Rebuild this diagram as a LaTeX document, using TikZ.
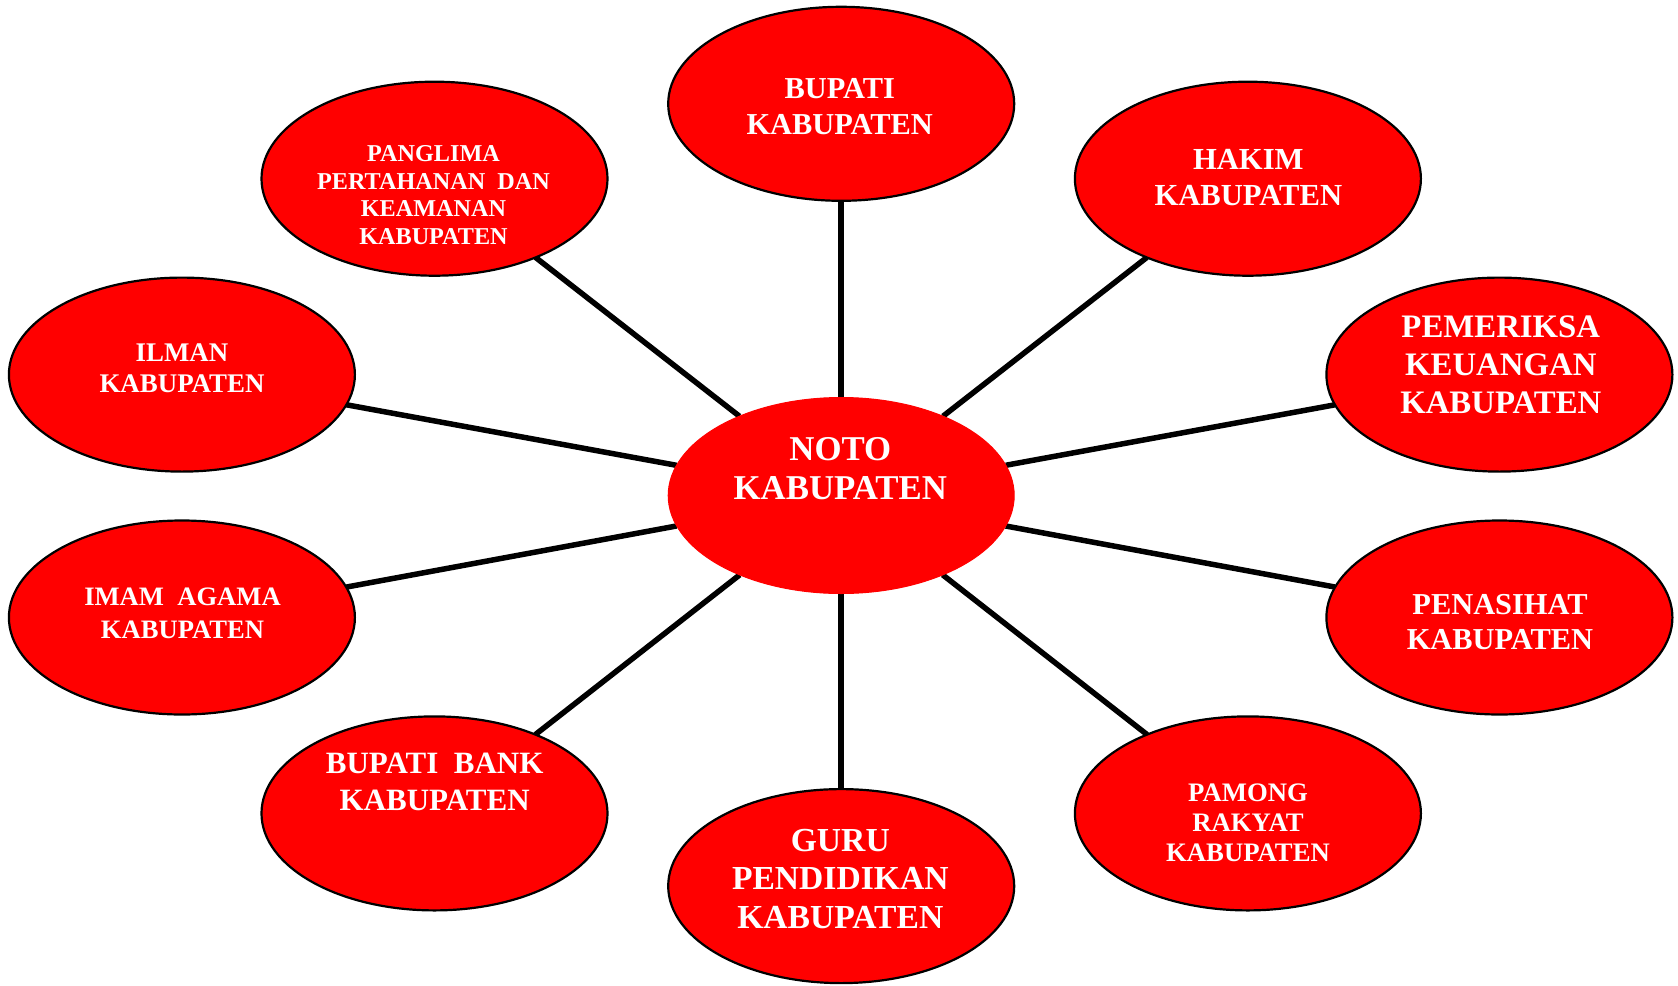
\documentclass[tikz,border=0pt]{standalone}
\usepackage{fontspec}
\setmainfont{Liberation Serif}
\usetikzlibrary{shapes.geometric,backgrounds}
\definecolor{rd}{RGB}{255,0,0}
\newcommand{\fs}[2]{\fontsize{#1pt}{#2pt}\selectfont}
\tikzset{
  bubble/.style={ellipse,fill=rd,draw=black,line width=2.2pt,minimum width=346pt,minimum height=194pt,inner sep=0pt,outer sep=0pt},
  hub/.style={ellipse,fill=rd,draw=rd,line width=1pt,minimum width=346pt,minimum height=196pt,inner sep=0pt,outer sep=0pt},
  lbl/.style={text=white,font=\bfseries,align=center,inner sep=0pt,anchor=center},
  link/.style={draw=black,line width=5.5pt}
}
\begin{document}
\begin{tikzpicture}[x=1pt,y=-1pt]
\useasboundingbox (0,0) rectangle (1678,985);
\node[hub] (noto) at (841.2,495.5) {};
\node[bubble] (bupati) at (841.2,103.8) {};
\node[bubble] (hakim) at (1247.9,178.7) {};
\node[bubble] (pemeriksa) at (1499.4,374.6) {};
\node[bubble] (penasihat) at (1499.4,617.5) {};
\node[bubble] (pamong) at (1247.9,813.4) {};
\node[bubble] (guru) at (841.2,886.1) {};
\node[bubble] (bank) at (434.5,813.4) {};
\node[bubble] (imam) at (181.9,617.5) {};
\node[bubble] (ilman) at (181.9,374.6) {};
\node[bubble] (panglima) at (434.5,178.7) {};
\begin{pgfonlayer}{background}
\fill[white] (0,0) rectangle (1678,985);
\foreach \n in {bupati,hakim,pemeriksa,penasihat,pamong,guru,bank,imam,ilman,panglima}
  \draw[link] (noto) -- (\n);
\end{pgfonlayer}
\node[lbl,font=\bfseries\fs{34.8}{39}] (tnoto) at (840.3,469) {NOTO\\KABUPATEN};
\node[lbl,font=\bfseries\fs{30.4}{35.7}] (tbupati) at (839.7,106.7) {BUPATI\\KABUPATEN};
\node[lbl,font=\bfseries\fs{30.6}{35.7}] (thakim) at (1248.3,177.5) {HAKIM\\KABUPATEN};
\node[lbl,font=\bfseries\fs{32.8}{38}] (tpemeriksa) at (1500.8,365) {PEMERIKSA\\KEUANGAN\\KABUPATEN};
\node[lbl,font=\bfseries\fs{30.4}{34.7}] (tpenasihat) at (1500,622.3) {PENASIHAT\\KABUPATEN};
\node[lbl,font=\bfseries\fs{26.7}{30}] (tpamong) at (1248,822.5) {PAMONG\\RAKYAT\\KABUPATEN};
\node[lbl,font=\bfseries\fs{33.6}{38.3}] (tguru) at (840.3,878.8) {GURU\\PENDIDIKAN\\KABUPATEN};
\node[lbl,font=\bfseries\fs{31}{36.7}] (tbank) at (434.7,782) {BUPATI~~BANK\\KABUPATEN};
\node[lbl,font=\bfseries\fs{26.6}{33.3}] (timam) at (182.5,613) {IMAM~~AGAMA\\KABUPATEN};
\node[lbl,font=\bfseries\fs{26.9}{31}] (tilman) at (182,368.7) {ILMAN\\KABUPATEN};
\node[lbl,font=\bfseries\fs{24.2}{27.7}] (tpanglima) at (433.5,195) {PANGLIMA\\PERTAHANAN~~DAN\\KEAMANAN\\KABUPATEN};
\end{tikzpicture}
\end{document}
